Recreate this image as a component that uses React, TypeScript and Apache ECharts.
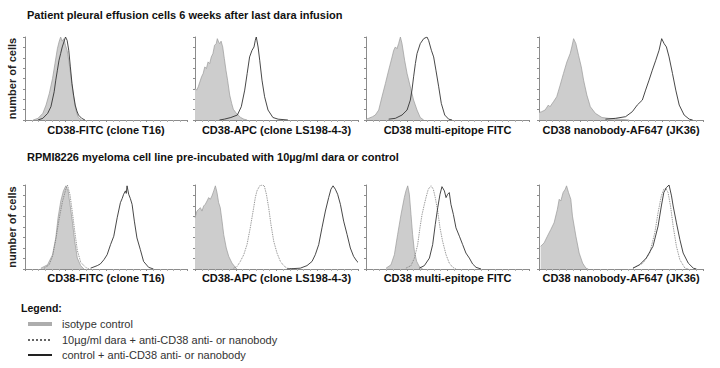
import React, { useEffect, useRef } from "react";
import * as echarts from "echarts";

// ---- Data (x: fluorescence position 0-100 across the log axis, y: % of max count) ----
const rowTitles = [
  "Patient pleural effusion cells 6 weeks after last dara infusion",
  "RPMI8226 myeloma cell line pre-incubated with 10µg/ml dara or control",
];
const panelLabels = [
  "CD38-FITC (clone T16)",
  "CD38-APC (clone LS198-4-3)",
  "CD38 multi-epitope FITC",
  "CD38 nanobody-AF647 (JK36)",
];
const yAxisTitle = "number of cells";
const legendTitle = "Legend:";
const legendItems = [
  "isotype control",
  "10µg/ml dara + anti-CD38 anti- or nanobody",
  "control + anti-CD38 anti- or nanobody",
];

// Row 1 – patient cells
const iso1 = [[5,0],[8,2],[11,8],[13,18],[15,32],[17,50],[18.5,68],[20,86],[21,94],[22,100],[23,95],[24,98],[25,90],[26,84],[27,72],[28,58],[29,42],[30,28],[31,16],[32,8],[33,3],[35,0]];
const ctl1 = [[8,0],[11,2],[14,8],[16,16],[18,34],[19,48],[20,60],[21,72],[22,80],[23,88],[24,94],[25,100],[26,96],[27,84],[28,64],[29,44],[30,30],[31,18],[32,11],[33,6],[35,2],[37,0]];

const iso2 = [[0,38],[1,36],[2,40],[3,46],[4,52],[5,56],[6,64],[7,62],[8,70],[9,68],[10,76],[11,80],[12,90],[13,92],[13.7,98],[14.5,94],[15.1,92],[16,95],[17,88],[18,74],[19,60],[20,48],[21.3,30],[22.5,20],[23.5,13],[25,9],[26.5,6],[28,3],[30,1],[32,0]];
const ctl2 = [[15,0],[18,1],[22,3],[26,6],[28.4,16],[30.5,36],[32,56],[33.5,76],[35,84],[36.2,88],[37,96],[37.6,100],[38.7,88],[39.7,72],[41.1,48],[42.7,28],[44.8,12],[47.8,3],[51,1],[57,0]];

const iso3 = [[0,1],[1.6,2],[4,4],[5.7,6],[7.8,12],[9.8,28],[11.9,44],[13.9,60],[16,76],[17,84],[18,88],[19,86],[20,92],[21.1,100],[22.1,92],[23.7,72],[25.2,56],[27.2,40],[29.2,24],[31.3,12],[33.3,3],[35.4,0]];
const ctl3 = [[13.9,1],[18,2],[22.1,6],[25.2,12],[27.2,24],[28.2,36],[29.2,52],[30.3,68],[31.3,80],[33.3,92],[35.4,98],[37.4,100],[38.4,96],[40.1,84],[41.5,76],[42.9,60],[44.6,40],[46.2,20],[48.3,6],[50.7,1],[52.8,0]];

const iso4 = [[0,9],[1.6,10],[3.7,12],[5.7,18],[6.7,16],[8.8,22],[10.8,28],[12.9,42],[14.9,56],[17,70],[19,80],[20,88],[21.1,98],[22.5,92],[24.1,78],[25.8,64],[27.2,48],[29.2,30],[31.3,16],[34.4,8],[38.4,3],[42.5,2],[48.7,1],[55,0]];
const ctl4 = [[40.5,1],[46.6,2],[52.8,4],[56.9,10],[59.9,18],[63,24],[65,36],[67.1,48],[69.1,60],[71.2,72],[73.2,84],[74.8,98],[76.3,92],[77.7,88],[79.3,76],[81.4,56],[83.4,36],[85.5,18],[88.5,6],[91.6,1],[93.7,0]];

// Row 2 – RPMI8226
const iso5 = [[9.8,1],[13.9,5],[17,17],[19,37],[20.4,61],[22.1,81],[23.7,93],[25.2,99],[26.6,93],[27.8,77],[29.2,57],[30.7,33],[32.3,13],[34.4,4],[36.4,0]];
const dara5 = [[11.9,1],[14.9,5],[17,15],[19,35],[21.1,60],[23.1,80],[25.2,95],[26.2,100],[27.8,88],[29.2,68],[30.7,45],[32.3,22],[34.4,8],[37.4,2],[39.5,0]];
const ctl5 = [[40.5,1],[44.6,4],[46.5,6],[48.7,11],[50.7,17],[52.8,29],[54.8,39],[56.9,61],[58.9,79],[60,84],[60.9,89],[62,93],[62.5,90],[63,99],[64,89],[65,84],[66.1,77],[67.5,57],[69.1,37],[71.2,23],[73.2,9],[76.3,2],[79.3,0]];

const iso6 = [[0,61],[1.2,69],[2.2,71],[3.3,73],[4.3,69],[5.3,75],[6.3,77],[7.4,81],[8.4,85],[9.4,83],[10.4,87],[11.5,93],[12.5,99],[13.5,91],[14.5,79],[15.5,73],[16.6,57],[17.6,41],[19.2,25],[20.7,15],[22.7,7],[24.7,2],[25.8,0]];
const dara6 = [[23.7,1],[25.8,3],[27.8,9],[29.9,17],[31.9,29],[33.9,49],[36,73],[37,85],[38,93],[39.7,99],[41.1,100],[42.5,99],[43.8,89],[45.2,73],[46.6,53],[48.3,33],[50.3,19],[52.4,9],[54.4,4],[56.4,1],[60,0]];
const ctl6 = [[56.4,0],[64.6,1],[68.7,4],[71.8,9],[73.8,17],[75.9,29],[77.9,49],[80,69],[82,85],[83.4,95],[84.7,99],[86.1,95],[87.5,89],[89.2,77],[91.2,57],[93.3,41],[95.3,25],[97.3,15],[99.4,9],[100,8]];

const iso7 = [[12.3,1],[15.3,5],[17.4,17],[19.4,41],[21.5,65],[23.5,85],[24.5,93],[25.6,99],[26.6,89],[27.6,65],[28.6,41],[29.7,21],[31.1,9],[32.7,3],[34.8,0]];
const dara7 = [[24.5,1],[27.6,4],[29.7,13],[31.7,29],[33.1,49],[34.4,65],[35.8,77],[36.8,85],[38.2,95],[39.9,99],[41.3,95],[42.5,85],[44,69],[45.4,49],[47,33],[49.1,17],[51.1,7],[53.2,2],[55.2,0]];
const ctl7 = [[32.7,1],[35.8,4],[38.9,13],[40.9,29],[42.5,53],[44,73],[45.4,89],[46.6,98],[48.1,93],[49.1,85],[50.1,89],[51.1,91],[52.1,77],[53.6,65],[55.2,49],[57.3,39],[59.3,29],[61.3,19],[63.4,13],[65.4,6],[67.5,2],[70.6,0]];

const iso8 = [[1,27],[3.1,31],[5.1,39],[7.2,47],[9.2,55],[11.2,71],[12.3,83],[13.3,81],[14.7,91],[16,95],[16.8,99],[18,91],[19.4,83],[20.4,63],[22.5,39],[24.5,19],[26.6,7],[28.6,1],[30,0]];
const dara8 = [[57.3,1],[63.4,7],[67.5,19],[70.6,43],[72.6,67],[74.6,87],[76.1,95],[77.3,96],[78.7,91],[80.2,75],[81.8,51],[83.8,27],[85.9,11],[89,1],[91,0]];
const ctl8 = [[57.3,1],[61.3,5],[65.4,13],[69.5,27],[72.6,51],[74.6,75],[76.1,91],[77.7,97],[79.3,100],[80.8,87],[81.8,75],[83.8,55],[85.9,35],[87.9,19],[91,7],[94.1,1],[96,0]];

const panels = [
  { iso: iso1, dara: null, ctl: ctl1 },
  { iso: iso2, dara: null, ctl: ctl2 },
  { iso: iso3, dara: null, ctl: ctl3 },
  { iso: iso4, dara: null, ctl: ctl4 },
  { iso: iso5, dara: dara5, ctl: ctl5 },
  { iso: iso6, dara: dara6, ctl: ctl6 },
  { iso: iso7, dara: dara7, ctl: ctl7 },
  { iso: iso8, dara: dara8, ctl: ctl8 },
];

// ---- Layout ----
const colLeft = [25, 195, 366, 539];
const colWidth = [162, 163, 163, 164];
const rowTop = [37, 185];
const rowHeight = [83, 84];

const FONT = "'Liberation Sans', Arial, sans-serif";
const AXIS_COLOR = "#8c8c8c";

export default function App() {
  const ref = useRef<HTMLDivElement>(null);

  useEffect(() => {
    document.body.style.margin = "0";
    if (!ref.current) return;
    const chart = echarts.init(ref.current, undefined, { renderer: "svg" });

    const grids: any[] = [];
    const xAxes: any[] = [];
    const yAxes: any[] = [];
    const series: any[] = [];

    panels.forEach((p, i) => {
      const r = Math.floor(i / 4);
      const c = i % 4;
      grids.push({ left: colLeft[c], top: rowTop[r], width: colWidth[c], height: rowHeight[r] });
      xAxes.push({
        type: "value", gridIndex: i, min: 0, max: 100, interval: 25,
        axisLine: { show: true, onZero: false, lineStyle: { color: AXIS_COLOR, width: 1 } },
        axisTick: { show: true, length: 2, lineStyle: { color: AXIS_COLOR } },
        minorTick: { show: true, splitNumber: 6, length: 2, lineStyle: { color: "#b0b0b0" } },
        axisLabel: { show: false }, splitLine: { show: false },
      });
      yAxes.push({
        type: "value", gridIndex: i, min: 0, max: 100, interval: 12.5,
        axisLine: { show: true, lineStyle: { color: AXIS_COLOR, width: 1 } },
        axisTick: { show: true, length: 2, lineStyle: { color: AXIS_COLOR } },
        axisLabel: { show: false }, splitLine: { show: false },
      });
      series.push({
        type: "line", xAxisIndex: i, yAxisIndex: i, data: p.iso, symbol: "none",
        lineStyle: { color: "#999", width: 0.7 },
        areaStyle: { color: "#cdcdcd", opacity: 1 }, z: 1,
      });
      if (p.dara) {
        series.push({
          type: "line", xAxisIndex: i, yAxisIndex: i, data: p.dara, symbol: "none",
          lineStyle: { color: "#777", width: 0.9, type: "dotted" }, z: 2,
        });
      }
      series.push({
        type: "line", xAxisIndex: i, yAxisIndex: i, data: p.ctl, symbol: "none",
        lineStyle: { color: "#333", width: 0.9 }, z: 3,
      });
    });

    const graphic: any[] = [];
    const titleY = [15, 157];
    rowTitles.forEach((t, r) => {
      graphic.push({ type: "text", x: 27, y: titleY[r], style: { text: t, font: `bold 11px ${FONT}`, fill: "#111", textVerticalAlign: "middle" } });
    });
    const labelY = [130, 278];
    [0, 1].forEach((r) => {
      panelLabels.forEach((l, c) => {
        graphic.push({ type: "text", x: colLeft[c] + colWidth[c] / 2, y: labelY[r], style: { text: l, font: `bold 11px ${FONT}`, fill: "#111", textAlign: "center", textVerticalAlign: "middle" } });
      });
      graphic.push({ type: "text", x: 12, y: rowTop[r] + rowHeight[r] / 2, rotation: Math.PI / 2, style: { text: yAxisTitle, font: `bold 11px ${FONT}`, fill: "#222", textAlign: "center", textVerticalAlign: "middle" } });
    });

    graphic.push({ type: "text", x: 21, y: 308, style: { text: legendTitle, font: `bold 10.5px ${FONT}`, fill: "#111", textVerticalAlign: "middle" } });
    graphic.push({ type: "rect", shape: { x: 28, y: 322, width: 24, height: 4 }, style: { fill: "#adadad" } });
    graphic.push({ type: "line", shape: { x1: 28, y1: 340, x2: 52, y2: 340 }, style: { stroke: "#333", lineWidth: 1.5, lineDash: [2, 2] } });
    graphic.push({ type: "line", shape: { x1: 28, y1: 355, x2: 52, y2: 355 }, style: { stroke: "#222", lineWidth: 2 } });
    const legY = [324, 340, 355];
    legendItems.forEach((t, k) => {
      graphic.push({ type: "text", x: 62, y: legY[k], style: { text: t, font: `11px ${FONT}`, fill: "#333", textVerticalAlign: "middle" } });
    });

    chart.setOption({
      animation: false,
      backgroundColor: "#fff",
      grid: grids, xAxis: xAxes, yAxis: yAxes, series, graphic,
    });
    return () => chart.dispose();
  }, []);

  return <div ref={ref} style={{ width: 720, height: 368 }} />;
}
